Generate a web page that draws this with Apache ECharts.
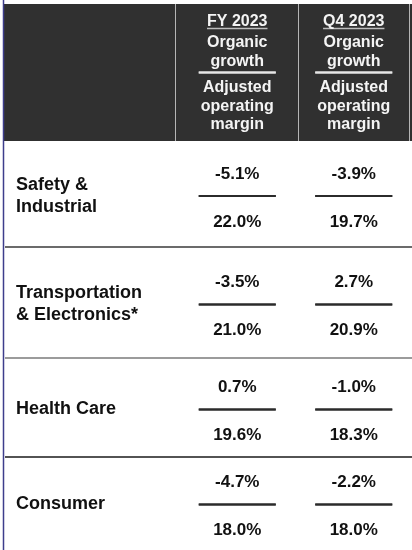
<!DOCTYPE html>
<html><head><meta charset="utf-8">
<script src="https://cdn.jsdelivr.net/npm/echarts@6/dist/echarts.min.js"></script>
<style>html,body{margin:0;padding:0;background:#fff}#c{width:412px;height:550px}</style>
</head><body><div id="c"></div>
<script>
// ---- data ----
const segments = ['Safety &\nIndustrial', 'Transportation\n& Electronics*', 'Health Care', 'Consumer'];
const periods = ['FY 2023', 'Q4 2023'];
const headerTop = ['Organic', 'growth'];
const headerBottom = ['Adjusted', 'operating', 'margin'];
const fyGrowth = [-5.1, -3.5, 0.7, -4.7];
const q4Growth = [-3.9, 2.7, -1.0, -2.2];
const fyMargin = [22.0, 21.0, 19.6, 18.0];
const q4Margin = [19.7, 20.9, 18.3, 18.0];

// ---- layout / style ----
const FONT = '"Liberation Sans", Arial, sans-serif';
const colLeft = 179, colRight = -1;
const headTop = 4, headBottom = 141;
const rowEdges = [141, 247, 358, 457, 550];
const lineShift = 2;
const sepColors = ['#3a3a3a', '#7a7a7a', '#1a1a1a'];
const headFont = 16, valFont = 17, segFont = 18;

const chart = echarts.init(document.getElementById('c'), null, {renderer: 'canvas'});

const ctx = document.createElement('canvas').getContext('2d');
ctx.font = 'bold ' + headFont + 'px ' + FONT;

const grids = [], xAxes = [], yAxes = [], series = [];

// header grid
grids.push({left: colLeft, right: colRight, top: headTop, height: headBottom - headTop});
xAxes.push({type: 'category', gridIndex: 0, data: periods, show: false});
yAxes.push({type: 'category', gridIndex: 0, data: ['header'], show: false});
const headRich = {
  p: {color: '#f4f4f4', fontFamily: FONT, fontWeight: 'bold', fontSize: headFont, lineHeight: 23},
  m: {color: '#f4f4f4', fontFamily: FONT, fontWeight: 'bold', fontSize: headFont, lineHeight: 19},
  b: {color: '#f4f4f4', fontFamily: FONT, fontWeight: 'bold', fontSize: headFont, lineHeight: 18.5}
};
series.push({
  type: 'scatter', xAxisIndex: 0, yAxisIndex: 0, silent: true, z: 3,
  data: periods.map(p => [p, 'header']),
  symbol: 'rect', symbolSize: [77, 2], itemStyle: {color: '#e6e6e6', opacity: 1},
  label: {show: true, position: 'top', distance: 0,
    formatter: d => '{p|' + d.value[0] + '}\n' + headerTop.map(t => '{m|' + t + '}').join('\n'),
    rich: headRich}
});
series.push({
  type: 'scatter', xAxisIndex: 0, yAxisIndex: 0, silent: true, z: 3,
  data: periods.map(p => [p, 'header']),
  symbol: 'rect', symbolSize: [77, 2], itemStyle: {color: '#e6e6e6', opacity: 1},
  label: {show: true, position: 'bottom', distance: 5,
    formatter: () => headerBottom.map(t => '{b|' + t + '}').join('\n'),
    rich: headRich}
});
// underline of period titles
periods.forEach(p => {
  series.push({
    type: 'scatter', xAxisIndex: 0, yAxisIndex: 0, silent: true, z: 3,
    data: [[p, 'header']],
    symbol: 'rect', symbolSize: [ctx.measureText(p).width, 1.5],
    symbolOffset: [0, -44], itemStyle: {color: '#bdbdbd', opacity: 1}
  });
});

// body rows
segments.forEach((seg, i) => {
  const g = i + 1;
  grids.push({left: colLeft, right: colRight, top: rowEdges[i] + lineShift, height: rowEdges[i + 1] - rowEdges[i]});
  xAxes.push({type: 'category', gridIndex: g, data: periods, show: false});
  yAxes.push({type: 'category', gridIndex: g, data: [seg],
    axisLine: {show: false}, axisTick: {show: false}, splitLine: {show: false},
    axisLabel: {show: true, align: 'left', margin: colLeft - 16, color: '#111',
      fontFamily: FONT, fontWeight: 'bold', fontSize: segFont, lineHeight: 22}});
  const valLabel = {show: true, color: '#111', fontFamily: FONT, fontWeight: 'bold', fontSize: valFont,
    lineHeight: 17, formatter: d => d.value[2].toFixed(1) + '%'};
  series.push({
    type: 'scatter', xAxisIndex: g, yAxisIndex: g, silent: true,
    data: [[periods[0], seg, fyGrowth[i]], [periods[1], seg, q4Growth[i]]],
    symbol: 'rect', symbolSize: [77, 2], itemStyle: {color: '#2b2b2b', opacity: 1},
    label: Object.assign({position: 'top', distance: 12.5}, valLabel)
  });
  series.push({
    type: 'scatter', xAxisIndex: g, yAxisIndex: g, silent: true,
    data: [[periods[0], seg, fyMargin[i]], [periods[1], seg, q4Margin[i]]],
    symbol: 'rect', symbolSize: [77, 2], itemStyle: {color: '#2b2b2b', opacity: 1},
    label: Object.assign({position: 'bottom', distance: 16.5}, valLabel)
  });
});

const graphics = [
  {type: 'rect', shape: {x: 4, y: headTop, width: 408, height: headBottom - headTop}, style: {fill: '#303030'}, z: -10},
  {type: 'line', shape: {x1: 3.5, y1: 0, x2: 3.5, y2: 550}, style: {stroke: '#3d3d8c', lineWidth: 1.5}, z: 10}
];
[175.5, 298.5, 409.5].forEach(x => graphics.push(
  {type: 'line', shape: {x1: x, y1: headTop, x2: x, y2: headBottom}, style: {stroke: '#b5b5b5', lineWidth: 1}, z: 10}));
rowEdges.slice(1, 4).forEach((y, k) => graphics.push(
  {type: 'line', shape: {x1: 5, y1: y, x2: 412, y2: y}, style: {stroke: sepColors[k], lineWidth: 1.5}, z: 10}));

chart.setOption({
  animation: false,
  backgroundColor: '#ffffff',
  grid: grids, xAxis: xAxes, yAxis: yAxes, series: series,
  graphic: graphics
});
</script></body></html>
